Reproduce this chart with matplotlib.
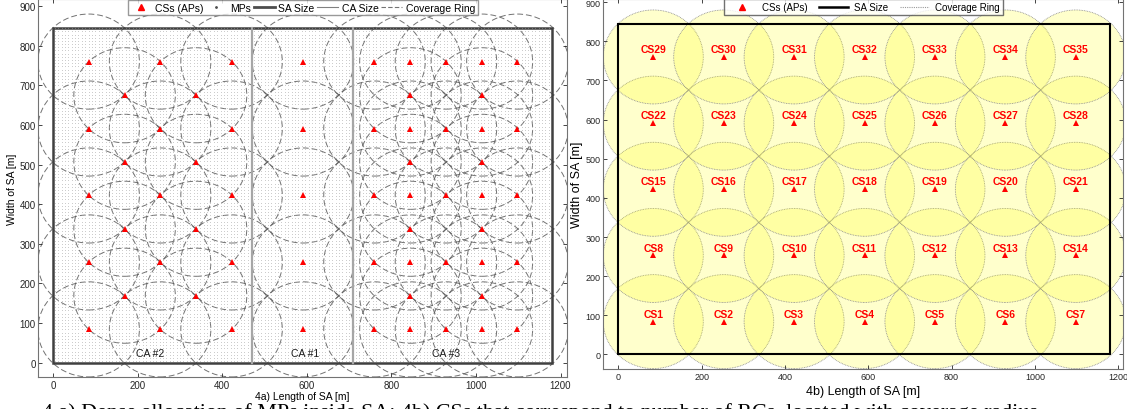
import matplotlib
matplotlib.use("Agg")
import matplotlib.pyplot as plt
import numpy as np
from matplotlib.patches import Circle, Rectangle
from matplotlib.lines import Line2D

plt.rcParams['font.family'] = ['Liberation Sans', 'DejaVu Sans']

# service area and coverage
sa_length = 1180
sa_width = 845
ring_radius = 120
mp_step = 8
ca_bounds = [471, 710]
ca_labels = ["CA #2", "CA #1", "CA #3"]
ca_label_x = [230, 597, 929]

# 4a) CS positions
major_cols_a = [84, 253, 422, 591, 760, 845, 929, 1014, 1098]
major_rows_a = [84, 253, 422, 591, 760]
minor_cols_a = [169, 338, 845, 1014]
minor_rows_a = [169, 338, 507, 675]

# 4b) CS positions
cols_b = [84, 253, 422, 591, 760, 929, 1098]
rows_b = [84, 253, 422, 591, 760]

caption = ("4.a) Dense allocation of MPs inside SA; 4b) CSs that correspond to "
           "number of RCs, located with coverage radius")

cs_a = [(x, y) for y in major_rows_a for x in major_cols_a] + \
       [(x, y) for y in minor_rows_a for x in minor_cols_a]
cs_b = [(x, y) for y in rows_b for x in cols_b]

fig = plt.figure(figsize=(11.27, 4.10), dpi=100)
ax1 = fig.add_axes([0.034, 0.0773, 0.469, 0.9227])
ax2 = fig.add_axes([0.5353, 0.0976, 0.4614, 0.9024])


def style_axes(ax, xlim, ylim, labelsize):
    ax.set_xlim(*xlim)
    ax.set_ylim(*ylim)
    ax.set_xticks(range(0, 1201, 200))
    ax.set_yticks(range(0, 901, 100))
    ax.tick_params(direction='in', top=True, right=True, labelsize=labelsize,
                   length=3, width=0.6, colors='0.15', pad=2)
    for s in ax.spines.values():
        s.set_color('0.45')
        s.set_linewidth(0.8)


# ---- 4a ----
mx, my = np.meshgrid(np.arange(mp_step / 2, sa_length, mp_step),
                     np.arange(mp_step / 2, sa_width, mp_step))
ax1.plot(mx.ravel(), my.ravel(), linestyle='none', marker='.', markersize=0.9,
         color='0.62', markeredgewidth=0)
for (x, y) in cs_a:
    ax1.add_patch(Circle((x, y), ring_radius, fill=False, edgecolor='0.35',
                         linestyle=(0, (6, 3)), linewidth=0.7, alpha=0.85))
for b in ca_bounds:
    ax1.plot([b, b], [0, sa_width], color='0.65', linewidth=1.6)
ax1.add_patch(Rectangle((0, 0), sa_length, sa_width, fill=False,
                        edgecolor='0.25', linewidth=1.8))
ax1.plot([p[0] for p in cs_a], [p[1] for p in cs_a], linestyle='none',
         marker='^', markersize=4, color='red', markeredgewidth=0)
for lab, x in zip(ca_labels, ca_label_x):
    ax1.text(x, 25, lab, fontsize=7.5, ha='center', va='center', color='0.1')
style_axes(ax1, (-35, 1215), (-37, 918), 7)
ax1.set_xlabel("4a) Length of SA [m]", fontsize=7.5, labelpad=1)
ax1.set_ylabel("Width of SA [m]", fontsize=7.5, labelpad=2)

h1 = [Line2D([], [], linestyle='none', marker='^', color='red', markersize=5),
      Line2D([], [], linestyle='none', marker='.', color='0.3', markersize=2),
      Line2D([], [], color='0.3', linewidth=2),
      Line2D([], [], color='0.5', linewidth=0.8),
      Line2D([], [], color='0.45', linewidth=0.8, linestyle=(0, (4, 2)))]
ax1.legend(h1, ["CSs (APs)", "MPs", "SA Size", "CA Size", "Coverage Ring"],
           loc='upper center', bbox_to_anchor=(0.5, 1.0), ncol=5,
           fontsize=7.5, frameon=True, fancybox=False, edgecolor='0.5',
           handlelength=2.0, handletextpad=0.35, columnspacing=0.25,
           borderpad=0.25, borderaxespad=0.1)

# ---- 4b ----
for (x, y) in cs_b:
    ax2.add_patch(Circle((x, y), ring_radius, facecolor=(1, 1, 0, 0.2),
                         edgecolor='0.55', linestyle=(0, (1, 1)),
                         linewidth=0.6))
ax2.add_patch(Rectangle((0, 0), sa_length, sa_width, fill=False,
                        edgecolor='black', linewidth=1.5))
ax2.plot([p[0] for p in cs_b], [p[1] for p in cs_b], linestyle='none',
         marker='^', markersize=4.5, color='red', markeredgewidth=0)
for i, (x, y) in enumerate(cs_b):
    ax2.text(x, y + 20, f"CS{i + 1}", fontsize=7.5, ha='center',
             va='center', color='red', fontweight='bold')
style_axes(ax2, (-36, 1212), (-37, 908), 6.5)
ax2.set_xlabel("4b) Length of SA [m]", fontsize=9, labelpad=3)
ax2.set_ylabel("Width of SA [m]", fontsize=9, labelpad=2)

h2 = [Line2D([], [], linestyle='none', marker='^', color='red', markersize=5),
      Line2D([], [], color='black', linewidth=1.8),
      Line2D([], [], color='0.6', linewidth=0.8, linestyle=(0, (1, 1)))]
ax2.legend(h2, ["CSs (APs)", "SA Size", "Coverage Ring"],
           loc='upper center', bbox_to_anchor=(0.5, 1.0), ncol=3, fontsize=7,
           frameon=True, fancybox=False, edgecolor='0.3', handlelength=3,
           handletextpad=0.6, columnspacing=1.2, borderpad=0.3,
           borderaxespad=0.05)

# caption runs off the bottom edge, as in the source
fig.text(0.037, 0.017, caption, fontsize=15.8, va='top', ha='left',
         family=['Liberation Serif', 'DejaVu Serif'])

fig.savefig("out.png", dpi=100)
